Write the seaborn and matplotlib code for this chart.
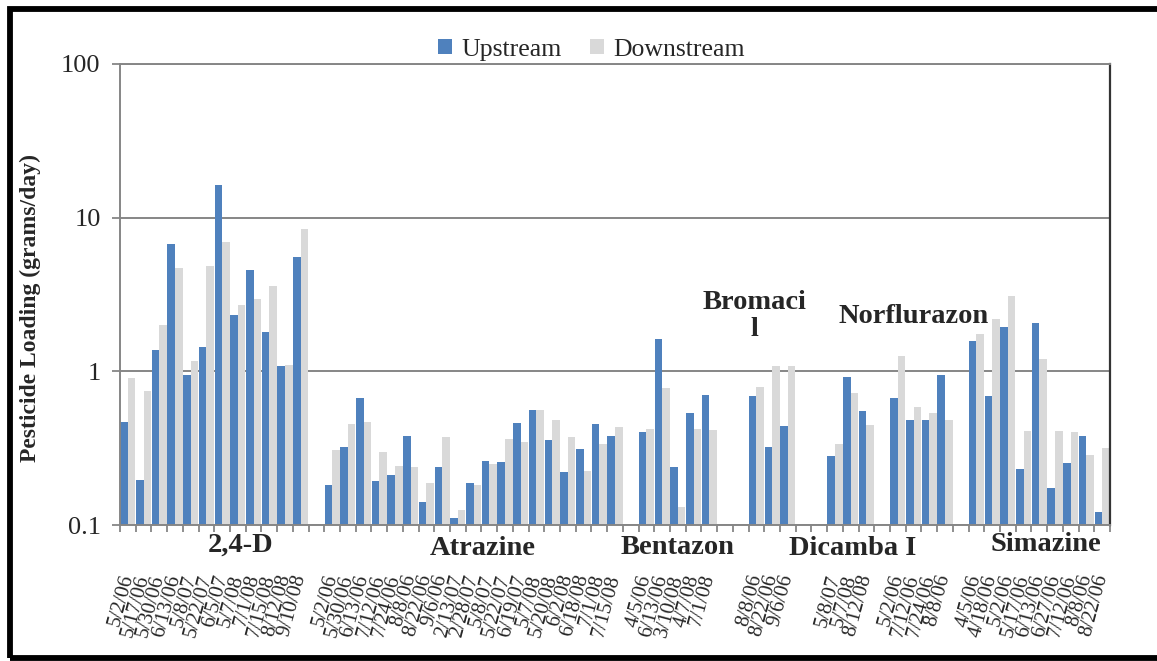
"""
Pesticide loading upstream vs downstream (log scale, grouped by compound)
"""
import numpy as np
import pandas as pd
import seaborn as sns
import matplotlib.pyplot as plt
from matplotlib.patches import Rectangle
from matplotlib.ticker import FixedLocator, NullLocator

# ── data ──
groups = ["2,4-D", "Atrazine", "Bentazon", "Bromacil", "Dicamba I", "Norflurazon", "Simazine"]

dates_24d = ["5/2/06", "5/17/06", "5/30/06", "6/13/06", "5/8/07", "5/22/07", "6/5/07",
             "5/7/08", "7/1/08", "7/15/08", "8/12/08", "9/10/08"]
up_24d = [0.47, 0.197, 1.37, 6.7, 0.94, 1.44, 16.3, 2.34, 4.55, 1.80, 1.08, 5.53]
down_24d = [0.90, 0.75, 1.99, 4.7, 1.16, 4.83, 6.9, 2.70, 2.96, 3.58, 1.10, 8.38]

dates_atr = ["5/2/06", "5/30/06", "6/13/06", "7/12/06", "7/24/06", "8/8/06", "8/22/06",
             "9/6/06", "2/13/07", "2/28/07", "5/8/07", "5/22/07", "6/19/07", "5/7/08",
             "5/20/08", "6/2/08", "6/18/08", "7/1/08", "7/15/08"]
up_atr = [0.183, 0.321, 0.67, 0.194, 0.213, 0.377, 0.142, 0.240, 0.111, 0.189,
          0.262, 0.258, 0.461, 0.557, 0.355, 0.222, 0.313, 0.454, 0.381]
down_atr = [0.306, 0.454, 0.466, 0.297, 0.243, 0.240, 0.189, 0.373, 0.126, 0.181,
            0.249, 0.361, 0.346, 0.557, 0.482, 0.372, 0.226, 0.336, 0.434]

dates_ben = ["4/5/06", "6/13/06", "3/10/08", "4/7/08", "7/1/08"]
up_ben = [0.40, 1.62, 0.240, 0.532, 0.705]
down_ben = [0.42, 0.775, 0.130, 0.419, 0.417]

dates_bro = ["8/8/06", "8/22/06", "9/6/06"]
up_bro = [0.694, 0.321, 0.438]
down_bro = [0.787, 1.09, 1.09]

dates_dic = ["5/8/07", "5/7/08", "8/12/08"]
up_dic = [0.282, 0.92, 0.549]
down_dic = [0.338, 0.726, 0.445]

dates_nor = ["5/2/06", "7/12/06", "7/24/06", "8/8/06"]
up_nor = [0.67, 0.484, 0.484, 0.94]
down_nor = [1.25, 0.589, 0.532, 0.48]

dates_sim = ["4/5/06", "4/18/06", "5/2/06", "5/17/06", "6/13/06", "6/27/06", "7/12/06",
             "8/8/06", "8/22/06"]
up_sim = [1.58, 0.687, 1.94, 0.232, 2.06, 0.175, 0.253, 0.377, 0.121]
down_sim = [1.75, 2.18, 3.08, 0.407, 1.21, 0.407, 0.40, 0.285, 0.315]

# ── layout ──
gaps = [1, 1, 2, 2, 1, 1, 0]          # empty slots after each compound
label_x = [7.2, 22.6, 35.0, 39.9, 46.1, 50.0, 58.4]
label_y = [-0.043, -0.052, -0.048, 0.453, -0.050, 0.453, -0.043]
BLUE = "#4F81BD"
GRAY = "#D9D9D9"
GRID = "#868686"

all_dates = [dates_24d, dates_atr, dates_ben, dates_bro, dates_dic, dates_nor, dates_sim]
all_up = [up_24d, up_atr, up_ben, up_bro, up_dic, up_nor, up_sim]
all_down = [down_24d, down_atr, down_ben, down_bro, down_dic, down_nor, down_sim]

rows, order, ticklabels = [], [], []
for g, d, u, dn, gap in zip(groups, all_dates, all_up, all_down, gaps):
    for date, uv, dv in zip(d, u, dn):
        key = f"{g}|{date}"
        order.append(key)
        ticklabels.append(date)
        rows.append((key, "Upstream", uv))
        rows.append((key, "Downstream", dv))
    for k in range(gap):
        order.append(f"{g}|gap{k}")
        ticklabels.append("")
df = pd.DataFrame(rows, columns=["slot", "site", "load"])

sns.set_theme(style="white")
plt.rcParams["font.family"] = ["Liberation Serif", "DejaVu Serif"]

fig = plt.figure(figsize=(11.57, 6.61), dpi=100, facecolor="white")
ax = fig.add_axes([120 / 1157, 1 - 525 / 661, 990 / 1157, 461 / 661])

sns.barplot(data=df, x="slot", y="load", hue="site", order=order,
            hue_order=["Upstream", "Downstream"], palette=[BLUE, GRAY],
            saturation=1, width=0.96, errorbar=None, linewidth=0, ax=ax)

ax.set_yscale("log")
ax.set_ylim(0.1, 100)
ax.set_xlim(-0.5, len(order) - 0.5)
ax.yaxis.set_major_locator(FixedLocator([0.1, 1, 10, 100]))
ax.yaxis.set_minor_locator(NullLocator())
ax.set_yticklabels(["0.1", "1", "10", "100"], fontsize=19)
ax.tick_params(axis="y", length=6, width=1.3, color=GRID, direction="out", pad=8, left=True)

ax.set_xticks(range(len(order)))
ax.set_xticklabels(ticklabels, rotation=75, rotation_mode="anchor",
                   ha="right", va="center", fontsize=15)
ax.tick_params(axis="x", which="major", length=0, pad=36)
ax.xaxis.set_minor_locator(FixedLocator(np.arange(-0.5, len(order), 1.0)))
ax.tick_params(axis="x", which="minor", length=5, width=1.3, color=GRID,
               direction="out", bottom=True)

ax.set_xlabel("")
ax.set_ylabel("Pesticide Loading (grams/day)", fontsize=17, fontweight="bold")
ax.yaxis.set_label_coords(-0.080, 0.47)

ax.yaxis.grid(True, which="major", color=GRID, lw=1.4)
ax.set_axisbelow(True)
for side in ["left", "bottom", "top"]:
    ax.spines[side].set_color(GRID)
    ax.spines[side].set_linewidth(1.4)
    ax.spines[side].set_zorder(4)
ax.spines["right"].set_color("#333333")
ax.spines["right"].set_linewidth(1.6)
ax.spines["right"].set_zorder(4)

handles, labs = ax.get_legend_handles_labels()
ax.legend(handles=handles, labels=labs, loc="center",
          bbox_to_anchor=(0.476, 1.031), ncol=2, frameon=False,
          handlelength=0.55, handleheight=0.55, handletextpad=0.35,
          columnspacing=1.1, fontsize=18.5, borderpad=0)

for name, lx, ly in zip(groups, label_x, label_y):
    txt = "Bromaci\nl" if name == "Bromacil" else name
    ax.text(lx, ly, txt, transform=ax.get_xaxis_transform(), ha="center",
            va="center", fontsize=20.5, fontweight="bold", linespacing=1.1,
            clip_on=False, zorder=5)

# black frame round the picture
fig.add_artist(Rectangle((10 / 1157, 3 / 661), 1.2, 1 - 12 / 661,
                         transform=fig.transFigure, fill=False, lw=4.2,
                         ec="black", clip_on=False))

fig.savefig("out.png", dpi=100, facecolor="white")
